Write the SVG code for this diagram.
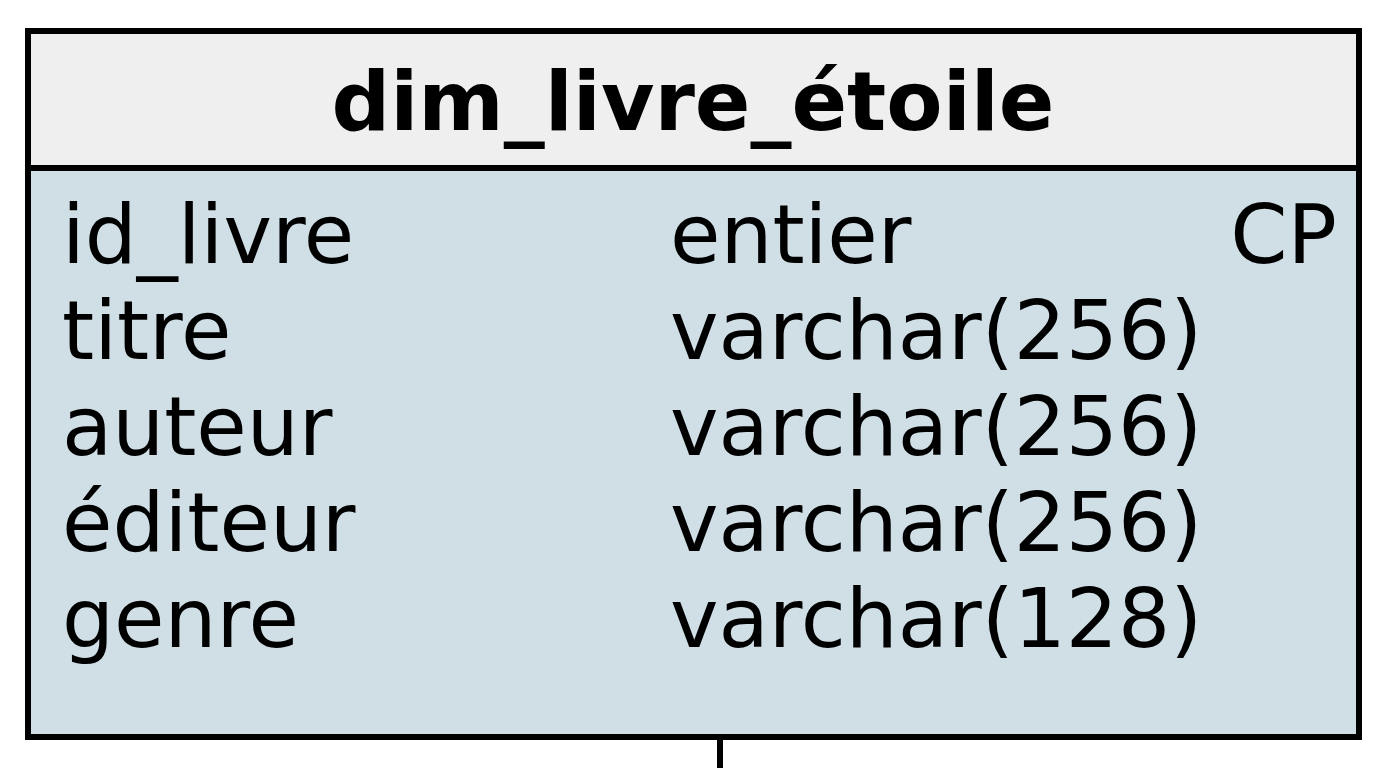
<svg xmlns="http://www.w3.org/2000/svg" width="1392" height="768" viewBox="0 0 1392 768">
<style>
.t{font-family:"DejaVu Sans",sans-serif;font-size:82px;fill:#000}
.h{font-family:"DejaVu Sans",sans-serif;font-size:82px;font-weight:bold;fill:#000}
</style>
<rect width="1392" height="768" fill="#ffffff"/>
<g id="connectors">
<line x1="720" y1="737" x2="720" y2="768" stroke="#000" stroke-width="6"/>
</g>
<g id="dim_livre_etoile">
<rect x="28" y="31" width="1331" height="137" fill="#efefef" stroke="#000" stroke-width="6"/>
<rect x="28" y="168" width="1331" height="569" fill="#d0dfe5" stroke="#000" stroke-width="6"/>
<text class="h" x="693" y="130" text-anchor="middle">dim_livre_étoile</text>
<text class="t" x="62" y="263">id_livre</text>
<text class="t" x="670" y="263">entier</text>
<text class="t" x="1337" y="263" text-anchor="end">CP</text>
<text class="t" x="62" y="359">titre</text>
<text class="t" x="670" y="359">varchar(256)</text>
<text class="t" x="62" y="455">auteur</text>
<text class="t" x="670" y="455">varchar(256)</text>
<text class="t" x="62" y="551">éditeur</text>
<text class="t" x="670" y="551">varchar(256)</text>
<text class="t" x="62" y="647">genre</text>
<text class="t" x="670" y="647">varchar(128)</text>
</g>
</svg>
